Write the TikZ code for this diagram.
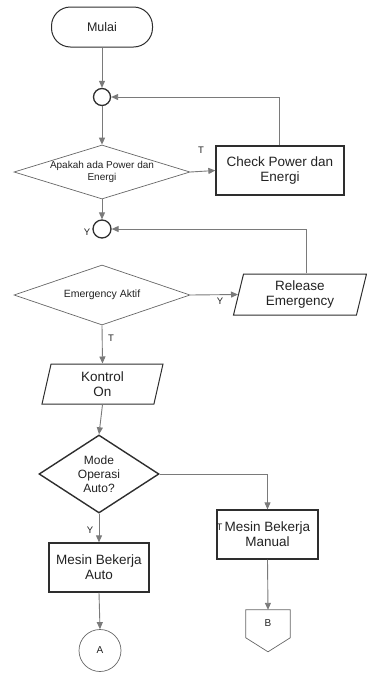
\documentclass[tikz,border=0pt]{standalone}
\usepackage{fontspec}
\setmainfont{Liberation Sans}
\usetikzlibrary{shapes.geometric,arrows.meta,calc}
\definecolor{linegray}{HTML}{7A7A7A}
\definecolor{edgegray}{HTML}{2E2E2E}
\definecolor{thingray}{HTML}{666666}
\definecolor{txt}{HTML}{222222}
\begin{document}
\begin{tikzpicture}[x=1pt,y=-1pt,
  every node/.style={text=txt},
  shp/.style={draw=edgegray, line width=1.1pt, inner sep=0pt, align=center},
  thinshp/.style={shp, draw=thingray, line width=0.7pt},
  boxnode/.style={shp, line width=1.3pt, rectangle, font=\fontsize{13.5}{15}\selectfont},
  conn/.style={shp, circle},
  dia/.style={shp, diamond},
  para/.style={shp, line width=1pt, trapezium, trapezium left angle=70, trapezium right angle=110, trapezium stretches body, font=\fontsize{13.5}{15}\selectfont},
  flow/.style={draw=linegray, line width=0.9pt, -{Triangle[length=7pt,width=6pt]}},
  lbl/.style={font=\fontsize{9.5}{11}\selectfont, inner sep=0pt}
]
\useasboundingbox (0,0) rectangle (367,673);

\node[shp, line width=1pt, rectangle, rounded corners=19pt, minimum width=101pt, minimum height=40pt, font=\fontsize{12.5}{14}\selectfont] (mulai) at (102,27) {Mulai};
\node[conn, line width=1.3pt, minimum size=17pt] (c1) at (102,97) {};
\node[thinshp, diamond, minimum width=176pt, minimum height=54pt,
  label={[font=\fontsize{10}{12}\selectfont, align=center, text=txt]center:Apakah ada Power dan\\Energi}] (d1) at (102,172) {};
\node[boxnode, minimum width=128pt, minimum height=49pt] (chk) at (280,170.5) {Check Power dan\\Energi};
\node[conn, line width=1.3pt, minimum size=18pt] (c2) at (102,229) {};
\node[thinshp, diamond, minimum width=176pt, minimum height=60pt,
  label={[font=\fontsize{10.5}{12}\selectfont, text=txt]center:Emergency Aktif}] (d2) at (102,295) {};
\node[para, minimum width=133pt, minimum height=41pt] (rel) at (300,294.5) {Release\\Emergency};
\node[para, minimum width=121pt, minimum height=40pt] (kon) at (102.5,384) {Kontrol\\On};
\node[dia, line width=1.4pt, minimum width=120pt, minimum height=78pt,
  label={[font=\fontsize{12}{14}\selectfont, align=center, text=txt]center:Mode\\Operasi\\Auto?}] (d3) at (99,474) {};
\node[boxnode, minimum width=100pt, minimum height=49pt] (auto) at (99,567.5) {Mesin Bekerja\\Auto};
\node[boxnode, minimum width=101pt, minimum height=49pt] (man) at (267.5,534.5) {Mesin Bekerja\\Manual};
\node[thinshp, circle, minimum size=42pt, font=\fontsize{10}{12}\selectfont] (a) at (100,650.5) {A};
\node[inner sep=0pt, minimum width=44pt, minimum height=26pt, font=\fontsize{10}{12}\selectfont] (b) at (268,623) {B};
\draw[draw=thingray, line width=0.7pt] (b.north west) -- (b.north east) -- ($(b.north east)+(0,28)$) -- ($(b.north)+(0,42)$) -- ($(b.north west)+(0,28)$) -- cycle;

% connectors
\draw[flow] (mulai) -- (c1);
\draw[flow] (c1) -- (d1);
\draw[flow] (d1.east) -- (chk.west);
\node[lbl] (t1) at (201,150) {T};
\draw[flow] ($(chk.north)+(-1,0)$) |- (c1.east);
\draw[flow] (d1.south) -- (c2.north);
\node[lbl] (y1) at (87,232) {Y};
\draw[flow] ($(rel.north)+(6,0)$) |- (c2.east);
\draw[flow] (d2.east) -- (rel.west);
\node[lbl] (y2) at (220,301) {Y};
\draw[flow] (d2.south) -- (kon.north);
\node[lbl] (t2) at (111,338) {T};
\draw[flow] (kon.south) -- (d3.north);
\draw[flow] (d3.south) -- (auto.north);
\node[lbl] (y3) at (90,530) {Y};
\draw[flow] (auto.south) -- (a.north);
\draw[flow] (d3.east) -| (man.north);
\node[lbl] (t3) at (219.5,527) {T};
\draw[flow] (man.south) -- (b.north);
\end{tikzpicture}
\end{document}
